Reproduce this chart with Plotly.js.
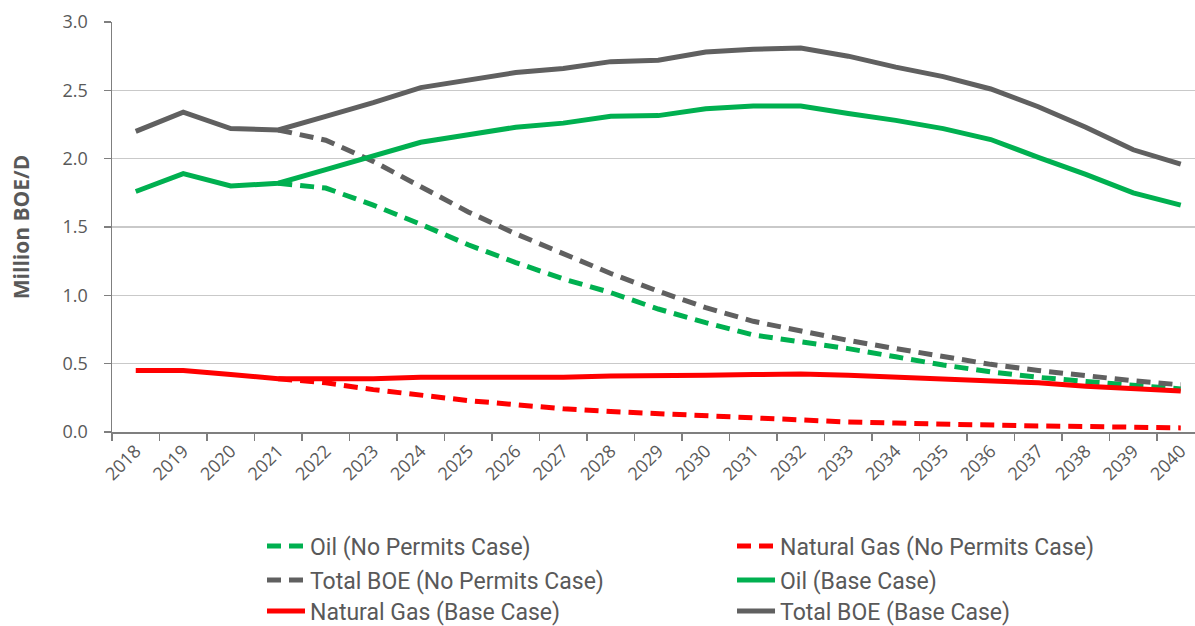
<!DOCTYPE html>
<html>
<head>
<meta charset="utf-8">
<script src="https://cdn.plot.ly/plotly-3.0.1.min.js"></script>
<style>html,body{margin:0;padding:0;background:#fff;}#chart{width:1195px;height:626px;}</style>
</head>
<body>
<div id="chart"></div>
<script>
const years = ["2018","2019","2020","2021","2022","2023","2024","2025","2026","2027","2028","2029","2030","2031","2032","2033","2034","2035","2036","2037","2038","2039","2040"];

const oilNoPermits   = [null,null,null,1.82,1.785,1.66,1.52,1.37,1.24,1.12,1.02,0.90,0.80,0.71,0.66,0.61,0.55,0.49,0.44,0.40,0.37,0.34,0.315];
const gasNoPermits   = [null,null,null,0.39,0.36,0.31,0.27,0.23,0.20,0.17,0.15,0.134,0.115,0.10,0.085,0.073,0.065,0.056,0.048,0.044,0.04,0.035,0.03];
const totalNoPermits = [null,null,null,2.21,2.135,1.98,1.80,1.61,1.45,1.30,1.16,1.03,0.91,0.81,0.74,0.67,0.61,0.55,0.495,0.45,0.41,0.375,0.345];
const oilBase   = [1.76,1.89,1.80,1.82,1.92,2.02,2.12,2.175,2.23,2.26,2.31,2.315,2.365,2.385,2.385,2.33,2.28,2.22,2.14,2.01,1.885,1.75,1.66];
const gasBase   = [0.45,0.45,0.42,0.39,0.39,0.39,0.40,0.40,0.40,0.40,0.41,0.41,0.415,0.42,0.425,0.415,0.40,0.39,0.375,0.36,0.335,0.315,0.30];
const totalBase = [2.20,2.34,2.22,2.21,2.31,2.41,2.52,2.575,2.63,2.66,2.71,2.72,2.78,2.80,2.81,2.75,2.67,2.60,2.51,2.38,2.23,2.065,1.96];

const seriesNames = ["Oil (No Permits Case)","Natural Gas (No Permits Case)","Total BOE (No Permits Case)","Oil (Base Case)","Natural Gas (Base Case)","Total BOE (Base Case)"];

const GREEN = "#00B050", RED = "#FF0000", GRAY = "#606060";
const DASH = "14px,8px";

function tr(name, y, color, dash, legend) {
  return {
    type: "scatter", mode: "lines", name: name, x: years, y: y,
    line: {color: color, width: 5, dash: dash || "solid"},
    connectgaps: false, legend: legend, hoverinfo: "x+y+name"
  };
}

const data = [
  tr(seriesNames[0], oilNoPermits, GREEN, DASH, "legend"),
  tr(seriesNames[1], gasNoPermits, RED, DASH, "legend2"),
  tr(seriesNames[2], totalNoPermits, GRAY, DASH, "legend3"),
  tr(seriesNames[3], oilBase, GREEN, null, "legend4"),
  tr(seriesNames[4], gasBase, RED, null, "legend5"),
  tr(seriesNames[5], totalBase, GRAY, null, "legend6")
];

const legendFont = {family: "Roboto, sans-serif", size: 23, color: "#595959"};
const COL1 = 0.1385, COL2 = 0.5725;
const ROW1 = -0.278, ROW2 = -0.361, ROW3 = -0.4366;
function leg(x, y) {
  return {
    orientation: "h", x: x, xanchor: "left", y: y, yanchor: "middle",
    font: legendFont, itemwidth: 38, bgcolor: "rgba(0,0,0,0)", borderwidth: 0,
    itemclick: false, itemdoubleclick: false
  };
}

const layout = {
  width: 1195, height: 626,
  margin: {l: 112, r: 0, t: 22, b: 194, autoexpand: false},
  paper_bgcolor: "#ffffff", plot_bgcolor: "#ffffff",
  font: {family: "'Open Sans', sans-serif", color: "#595959"},
  showlegend: true,
  xaxis: {
    type: "category", range: [-0.5, 22.3], automargin: false,
    tickson: "boundaries", ticks: "outside", ticklen: 7, tickwidth: 1.5, tickcolor: "#7f7f7f",
    showline: true, linecolor: "#7f7f7f", linewidth: 1.5,
    showgrid: false, zeroline: false, tickangle: -45,
    tickfont: {family: "'Open Sans', sans-serif", size: 18, color: "#595959"},
    fixedrange: true
  },
  yaxis: {
    range: [0, 3], dtick: 0.5, tickformat: ".1f", automargin: false,
    ticks: "outside", ticklen: 7, tickwidth: 1.5, tickcolor: "#7f7f7f",
    showline: true, linecolor: "#7f7f7f", linewidth: 1.5,
    showgrid: true, gridcolor: "#c9c9c9", gridwidth: 1.5, zeroline: false,
    ticklabelstandoff: 12,
    tickfont: {family: "'Open Sans', sans-serif", size: 18, color: "#595959"},
    title: {text: "Million BOE/D", standoff: 27, font: {family: "'Open Sans', sans-serif", size: 21, color: "#595959", weight: "bold"}},
    fixedrange: true
  },
  legend: leg(COL1, ROW1),
  legend2: leg(COL2, ROW1),
  legend3: leg(COL1, ROW2),
  legend4: leg(COL2, ROW2),
  legend5: leg(COL1, ROW3),
  legend6: leg(COL2, ROW3)
};

Plotly.newPlot("chart", data, layout, {displayModeBar: false, staticPlot: true});
</script>
</body>
</html>
